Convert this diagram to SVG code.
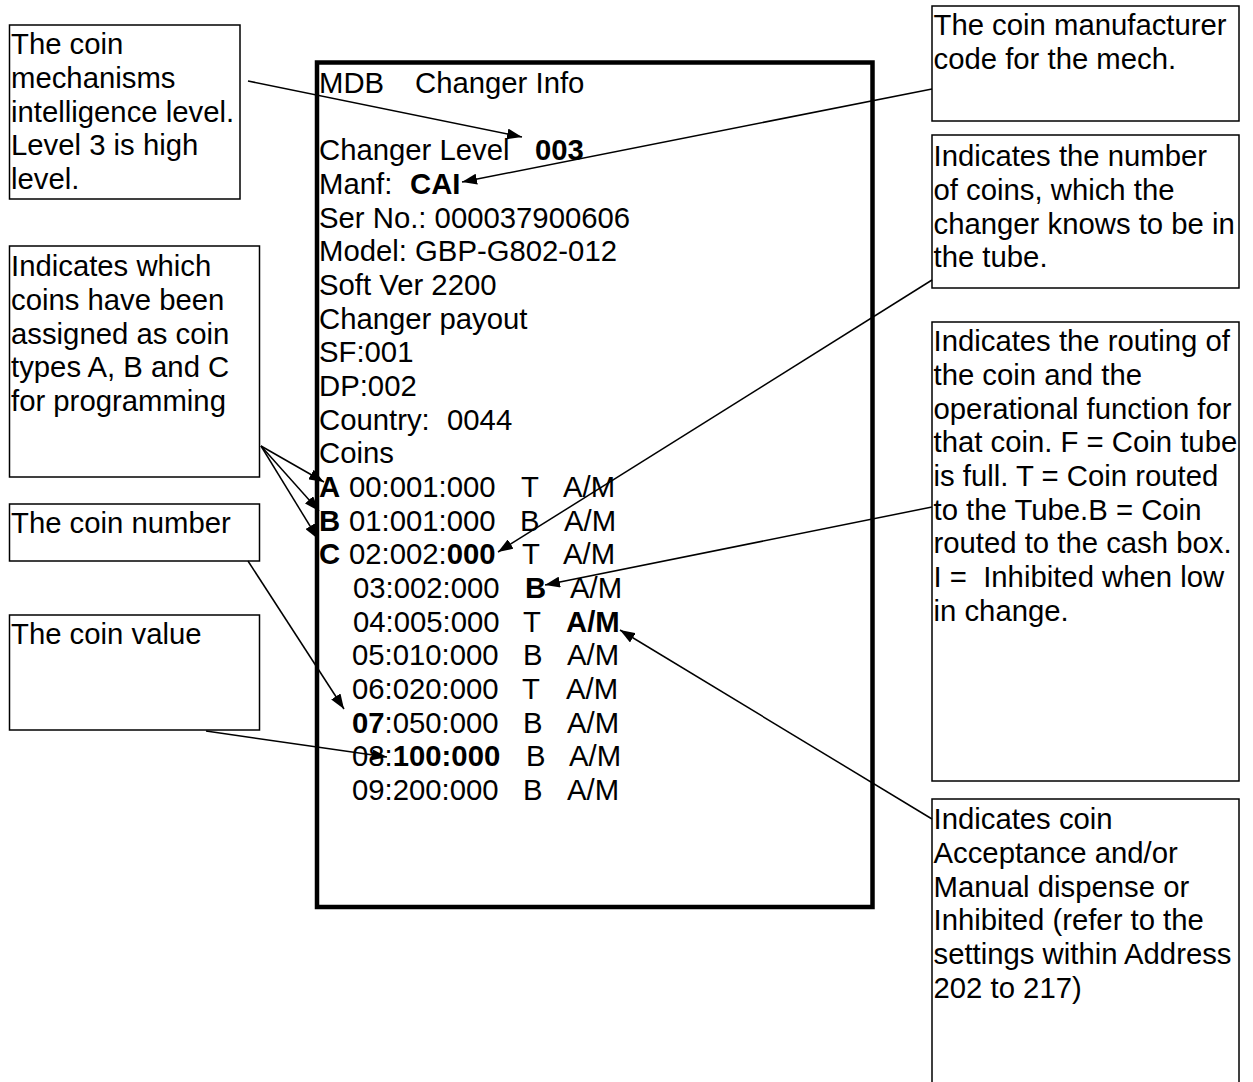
<svg xmlns="http://www.w3.org/2000/svg" width="1253" height="1082" viewBox="0 0 1253 1082">
<style>
text { font-family: "Liberation Sans", Arial, sans-serif; font-size: 29.3px; fill: #000; }
.b { font-weight: bold; }
.box { fill: #fff; stroke: #000; stroke-width: 1.5; }
.main { fill: none; stroke: #000; stroke-width: 4.5; }
.conn { stroke: #000; stroke-width: 1.5; fill: none; marker-end: url(#arrow); }
</style>
<defs>
<marker id="arrow" markerUnits="userSpaceOnUse" markerWidth="15" markerHeight="11" refX="15" refY="5.5" orient="auto">
<path d="M0,0 L15,5.5 L0,11 z" fill="#000"/>
</marker>
</defs>
<rect width="1253" height="1082" fill="#fff"/>

<g id="note-level">
<rect class="box" x="9.5" y="25" width="230.5" height="174"/>
<text x="11" y="54">The coin</text>
<text x="11" y="88">mechanisms</text>
<text x="11" y="121.5">intelligence level.</text>
<text x="11" y="155">Level 3 is high</text>
<text x="11" y="189">level.</text>
</g>

<g id="note-types">
<rect class="box" x="9.5" y="246" width="250" height="231"/>
<text x="11" y="276">Indicates which</text>
<text x="11" y="310">coins have been</text>
<text x="11" y="343.5">assigned as coin</text>
<text x="11" y="377">types A, B and C</text>
<text x="11" y="411">for programming</text>
</g>

<g id="note-number">
<rect class="box" x="9.5" y="504" width="250" height="57"/>
<text x="11" y="533">The coin number</text>
</g>

<g id="note-value">
<rect class="box" x="9.5" y="615" width="250" height="115"/>
<text x="11" y="644">The coin value</text>
</g>

<g id="note-manufacturer">
<rect class="box" x="932" y="6" width="307" height="115"/>
<text x="933.5" y="35">The coin manufacturer</text>
<text x="933.5" y="69">code for the mech.</text>
</g>

<g id="note-tube">
<rect class="box" x="932" y="135" width="307" height="153"/>
<text x="933.5" y="166">Indicates the number</text>
<text x="933.5" y="200">of coins, which the</text>
<text x="933.5" y="233.5">changer knows to be in</text>
<text x="933.5" y="267">the tube.</text>
</g>

<g id="note-routing">
<rect class="box" x="932" y="322" width="307" height="459"/>
<text x="933.5" y="351">Indicates the routing of</text>
<text x="933.5" y="385">the coin and the</text>
<text x="933.5" y="418.5">operational function for</text>
<text x="933.5" y="452">that coin. F = Coin tube</text>
<text x="933.5" y="486">is full. T = Coin routed</text>
<text x="933.5" y="519.5">to the Tube.B = Coin</text>
<text x="933.5" y="553">routed to the cash box.</text>
<text x="933.5" y="587" xml:space="preserve">I =  Inhibited when low</text>
<text x="933.5" y="620.5">in change.</text>
</g>

<g id="note-acceptance">
<rect class="box" x="932" y="799" width="307" height="300"/>
<text x="933.5" y="829">Indicates coin</text>
<text x="933.5" y="863">Acceptance and/or</text>
<text x="933.5" y="896.5">Manual dispense or</text>
<text x="933.5" y="930">Inhibited (refer to the</text>
<text x="933.5" y="964">settings within Address</text>
<text x="933.5" y="997.5">202 to 217)</text>
</g>

<g id="changer-info">
<rect class="main" x="317" y="62.5" width="555.5" height="844.5"/>
<text y="93"><tspan x="319">MDB</tspan><tspan x="415">Changer Info</tspan></text>
<text y="160.3"><tspan x="319">Changer Level</tspan><tspan x="535" class="b">003</tspan></text>
<text y="194"><tspan x="319">Manf:</tspan><tspan x="410" class="b">CAI</tspan></text>
<text x="319" y="227.7">Ser No.: 000037900606</text>
<text x="319" y="261.4">Model: GBP-G802-012</text>
<text x="319" y="295">Soft Ver 2200</text>
<text x="319" y="328.7">Changer payout</text>
<text x="319" y="362.4">SF:001</text>
<text x="319" y="396">DP:002</text>
<text y="429.7"><tspan x="319">Country:</tspan><tspan x="447">0044</tspan></text>
<text x="319" y="463.4">Coins</text>
<text y="497"><tspan x="319" class="b">A</tspan><tspan x="349">00:001:000</tspan><tspan x="521">T</tspan><tspan x="563">A/M</tspan></text>
<text y="530.7"><tspan x="319" class="b">B</tspan><tspan x="349">01:001:000</tspan><tspan x="520">B</tspan><tspan x="564">A/M</tspan></text>
<text y="564.4"><tspan x="319" class="b">C</tspan><tspan x="349">02:002:</tspan><tspan class="b">000</tspan><tspan x="522">T</tspan><tspan x="563">A/M</tspan></text>
<text y="598"><tspan x="353">03:002:000</tspan><tspan x="525" class="b">B</tspan><tspan x="570">A/M</tspan></text>
<text y="631.7"><tspan x="353">04:005:000</tspan><tspan x="523">T</tspan><tspan x="566" class="b">A/M</tspan></text>
<text y="665.4"><tspan x="352">05:010:000</tspan><tspan x="523">B</tspan><tspan x="567">A/M</tspan></text>
<text y="699"><tspan x="352">06:020:000</tspan><tspan x="522">T</tspan><tspan x="566">A/M</tspan></text>
<text y="732.7"><tspan x="352" class="b">07</tspan><tspan>:050:000</tspan><tspan x="523">B</tspan><tspan x="567">A/M</tspan></text>
<text y="766.4"><tspan x="352">08:</tspan><tspan class="b">100:000</tspan><tspan x="526">B</tspan><tspan x="569">A/M</tspan></text>
<text y="800"><tspan x="352">09:200:000</tspan><tspan x="523">B</tspan><tspan x="567">A/M</tspan></text>
</g>

<g id="connectors">
<line class="conn" x1="248" y1="81" x2="522" y2="137"/>
<line class="conn" x1="932" y1="89" x2="462" y2="182"/>
<line class="conn" x1="932" y1="280" x2="498" y2="552"/>
<line class="conn" x1="261" y1="446" x2="324" y2="482"/>
<line class="conn" x1="261" y1="446" x2="319" y2="511"/>
<line class="conn" x1="261" y1="446" x2="318" y2="539"/>
<line class="conn" x1="932" y1="507" x2="545" y2="585"/>
<line class="conn" x1="932" y1="819" x2="620" y2="630"/>
<line class="conn" x1="248" y1="561" x2="344" y2="709"/>
<line class="conn" x1="206" y1="731" x2="387" y2="757"/>
</g>
</svg>
